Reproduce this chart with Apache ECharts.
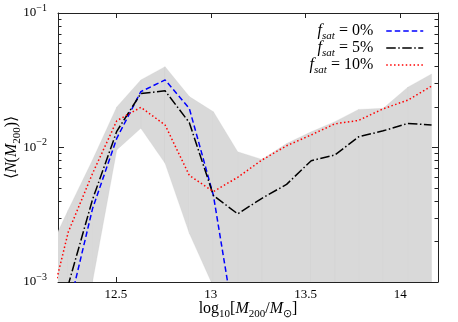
<!DOCTYPE html>
<html>
<head>
<meta charset="utf-8">
<script src="https://cdn.jsdelivr.net/npm/echarts@6/dist/echarts.min.js"></script>
<style>
  html, body { margin: 0; padding: 0; background: #fff; }
  #chart { width: 458px; height: 322px; }
</style>
</head>
<body>
<div id="chart"></div>
<script>
// log10(M200/Msun) bin centres
const massBins = [12.12, 12.248, 12.376, 12.504, 12.631, 12.759, 12.887, 13.014, 13.142,
  13.27, 13.40, 13.53, 13.655, 13.78, 13.91, 14.04, 14.165];

// <N(M200)> for each satellite fraction
const fsat0 = [1.5e-4, 6.1e-4, 3.5e-3, 0.0117, 0.026, 0.0318, 0.0195, 4.4e-3, 3.5e-4,
  null, null, null, null, null, null, null, null];
const fsat5 = [2.5e-4, 9.5e-4, 4.1e-3, 0.0132, 0.0252, 0.0264, 0.0153, 4.4e-3, 3.21e-3,
  4.19e-3, 5.32e-3, 7.98e-3, 8.8e-3, 0.0120, 0.0133, 0.0151, 0.0147];
const fsat10 = [4.3e-4, 2.35e-3, 6.4e-3, 0.0158, 0.0199, 0.0147, 6.2e-3, 4.7e-3, 6.0e-3,
  8.07e-3, 0.0103, 0.0124, 0.0150, 0.0159, 0.0194, 0.0225, 0.0286];

// grey scatter band (upper / lower edge)
const bandHigh = [1.43e-3, 3.43e-3, 8.07e-3, 0.0200, 0.0318, 0.0399, 0.0239, 0.01845, 0.0093,
  0.00816, 0.0107, 0.0131, 0.01556, 0.0192, 0.01955, 0.0281, 0.0352];
const bandLow = [1e-5, 1e-4, 1.0e-3, 9.6e-3, 0.0139, 7.63e-3, 2.3e-3, 9.2e-4, 1e-5,
  1e-5, 1e-5, 1e-5, 1e-5, 1e-5, 1e-5, 1e-5, 1e-5];

const xTicks = [12.5, 13, 13.5, 14];
const yMajor = [0.001, 0.01, 0.1];
const yMinor = [0.002, 0.003, 0.004, 0.005, 0.006, 0.007, 0.008, 0.009,
  0.02, 0.03, 0.04, 0.05, 0.06, 0.07, 0.08, 0.09];

const FONT = 'Liberation Serif';
const pairs = ys => massBins.map((m, i) => [m, ys[i]]).filter(p => p[1] != null);

const legendText = {
  'fsat = 0%': '0%',
  'fsat = 5%': '5%',
  'fsat = 10%': '10%'
};

const subRich = {
  n: { fontFamily: FONT, fontSize: 16, color: '#000', lineHeight: 22, verticalAlign: 'middle' },
  i: { fontFamily: FONT, fontSize: 16, fontStyle: 'italic', color: '#000', lineHeight: 22, verticalAlign: 'middle' },
  s: { fontFamily: FONT, fontSize: 11, fontStyle: 'italic', color: '#000', lineHeight: 13, verticalAlign: 'bottom' },
  r: { fontFamily: FONT, fontSize: 11, color: '#000', lineHeight: 13, verticalAlign: 'bottom' },
  g: { fontFamily: FONT, fontSize: 14, width: 8 }
};

const axisLineStyle = { color: '#222', width: 1 };

const chart = echarts.init(document.getElementById('chart'), null, { renderer: 'canvas' });

const bandData = massBins.slice(0, -1).map((m, i) =>
  [m, massBins[i + 1], bandHigh[i], bandHigh[i + 1], bandLow[i], bandLow[i + 1]]);

const option = {
  backgroundColor: '#fff',
  animation: false,
  grid: { left: 58, right: 20, top: 13, bottom: 40, outerBoundsMode: 'none' },
  legend: {
    right: 34,
    top: 23,
    orient: 'vertical',
    align: 'right',
    padding: 0,
    itemGap: -2,
    itemWidth: 37,
    itemHeight: 18,
    data: ['fsat = 0%', 'fsat = 5%', 'fsat = 10%'],
    formatter: name => '{i|f}{s|sat}{n| = ' + legendText[name] + '}{g| }',
    textStyle: { rich: subRich, fontFamily: FONT, fontSize: 16 },
    itemStyle: { opacity: 0 },
    lineStyle: { width: 1.5 }
  },
  xAxis: [{
    type: 'value',
    min: 12.194,
    max: 14.199,
    position: 'bottom',
    name: '{n|log}{r|10}{n|[}{i|M}{r|200}{n|/}{i|M}{r|⊙}{n|]}',
    nameLocation: 'middle',
    nameMoveOverlap: false,
    nameGap: 16,
    nameTextStyle: { rich: subRich },
    axisLine: { lineStyle: axisLineStyle },
    axisTick: { inside: true, length: 5, customValues: xTicks, lineStyle: axisLineStyle },
    axisLabel: { customValues: xTicks, margin: 6, fontFamily: FONT, fontSize: 13, color: '#000' },
    splitLine: { show: false }
  }, {
    type: 'value',
    min: 12.194,
    max: 14.199,
    position: 'top',
    axisLine: { lineStyle: axisLineStyle },
    axisTick: { inside: true, length: 5, customValues: xTicks, lineStyle: axisLineStyle },
    axisLabel: { show: false },
    splitLine: { show: false }
  }],
  yAxis: [{
    type: 'log',
    min: 0.001,
    max: 0.1,
    position: 'left',
    name: '{n|⟨}{i|N}{n|(}{i|M}{r|200}{n|)⟩}',
    nameLocation: 'middle',
    nameRotate: 90,
    nameMoveOverlap: false,
    nameGap: 35,
    nameTextStyle: { rich: subRich },
    axisLine: { lineStyle: axisLineStyle },
    axisTick: { inside: true, length: 6, customValues: yMajor, lineStyle: axisLineStyle },
    axisLabel: {
      customValues: yMajor,
      margin: 11,
      formatter: v => '{b|10}{p|−' + Math.round(-Math.log10(v)) + '}',
      rich: {
        b: { fontFamily: FONT, fontSize: 13, color: '#000', lineHeight: 20, verticalAlign: 'middle' },
        p: { fontFamily: FONT, fontSize: 10, color: '#000', lineHeight: 12, verticalAlign: 'top' }
      }
    },
    splitLine: { show: false }
  }, {
    type: 'log',
    min: 0.001,
    max: 0.1,
    position: 'left',
    axisLine: { show: false },
    axisTick: { inside: true, length: 3.5, customValues: yMinor, lineStyle: axisLineStyle },
    axisLabel: { show: false },
    splitLine: { show: false }
  }, {
    type: 'log',
    min: 0.001,
    max: 0.1,
    position: 'right',
    axisLine: { show: true, lineStyle: axisLineStyle },
    axisTick: { inside: true, length: 6, customValues: yMajor, lineStyle: axisLineStyle },
    axisLabel: { show: false },
    splitLine: { show: false }
  }, {
    type: 'log',
    min: 0.001,
    max: 0.1,
    position: 'right',
    axisLine: { show: false },
    axisTick: { inside: true, length: 3.5, customValues: yMinor, lineStyle: axisLineStyle },
    axisLabel: { show: false },
    splitLine: { show: false }
  }],
  series: [{
    type: 'custom',
    clip: true,
    silent: true,
    z: 1,
    encode: { x: [0, 1], y: [2, 3, 4, 5] },
    renderItem: (params, api) => {
      const pts = [
        api.coord([api.value(0), api.value(2)]),
        api.coord([api.value(1), api.value(3)]),
        api.coord([api.value(1), api.value(5)]),
        api.coord([api.value(0), api.value(4)])
      ];
      return {
        type: 'polygon',
        shape: { points: pts },
        style: { fill: '#d9d9d9', stroke: 'rgba(200,200,200,0.6)', lineWidth: 0.4 }
      };
    },
    data: bandData
  }, {
    name: 'fsat = 0%',
    type: 'line',
    z: 3,
    symbol: 'none',
    color: '#0000ff',
    lineStyle: { color: '#0000ff', width: 1.5, type: [5.5, 3] },
    data: pairs(fsat0)
  }, {
    name: 'fsat = 5%',
    type: 'line',
    z: 4,
    symbol: 'none',
    color: '#000',
    lineStyle: { color: '#000', width: 1.5, type: [9.5, 2.5, 1.5, 2.5] },
    data: pairs(fsat5)
  }, {
    name: 'fsat = 10%',
    type: 'line',
    z: 5,
    symbol: 'none',
    color: '#ff0000',
    lineStyle: { color: '#ff0000', width: 1.5, type: [1.5, 2.4] },
    data: pairs(fsat10)
  }]
};

chart.setOption(option);
</script>
</body>
</html>
